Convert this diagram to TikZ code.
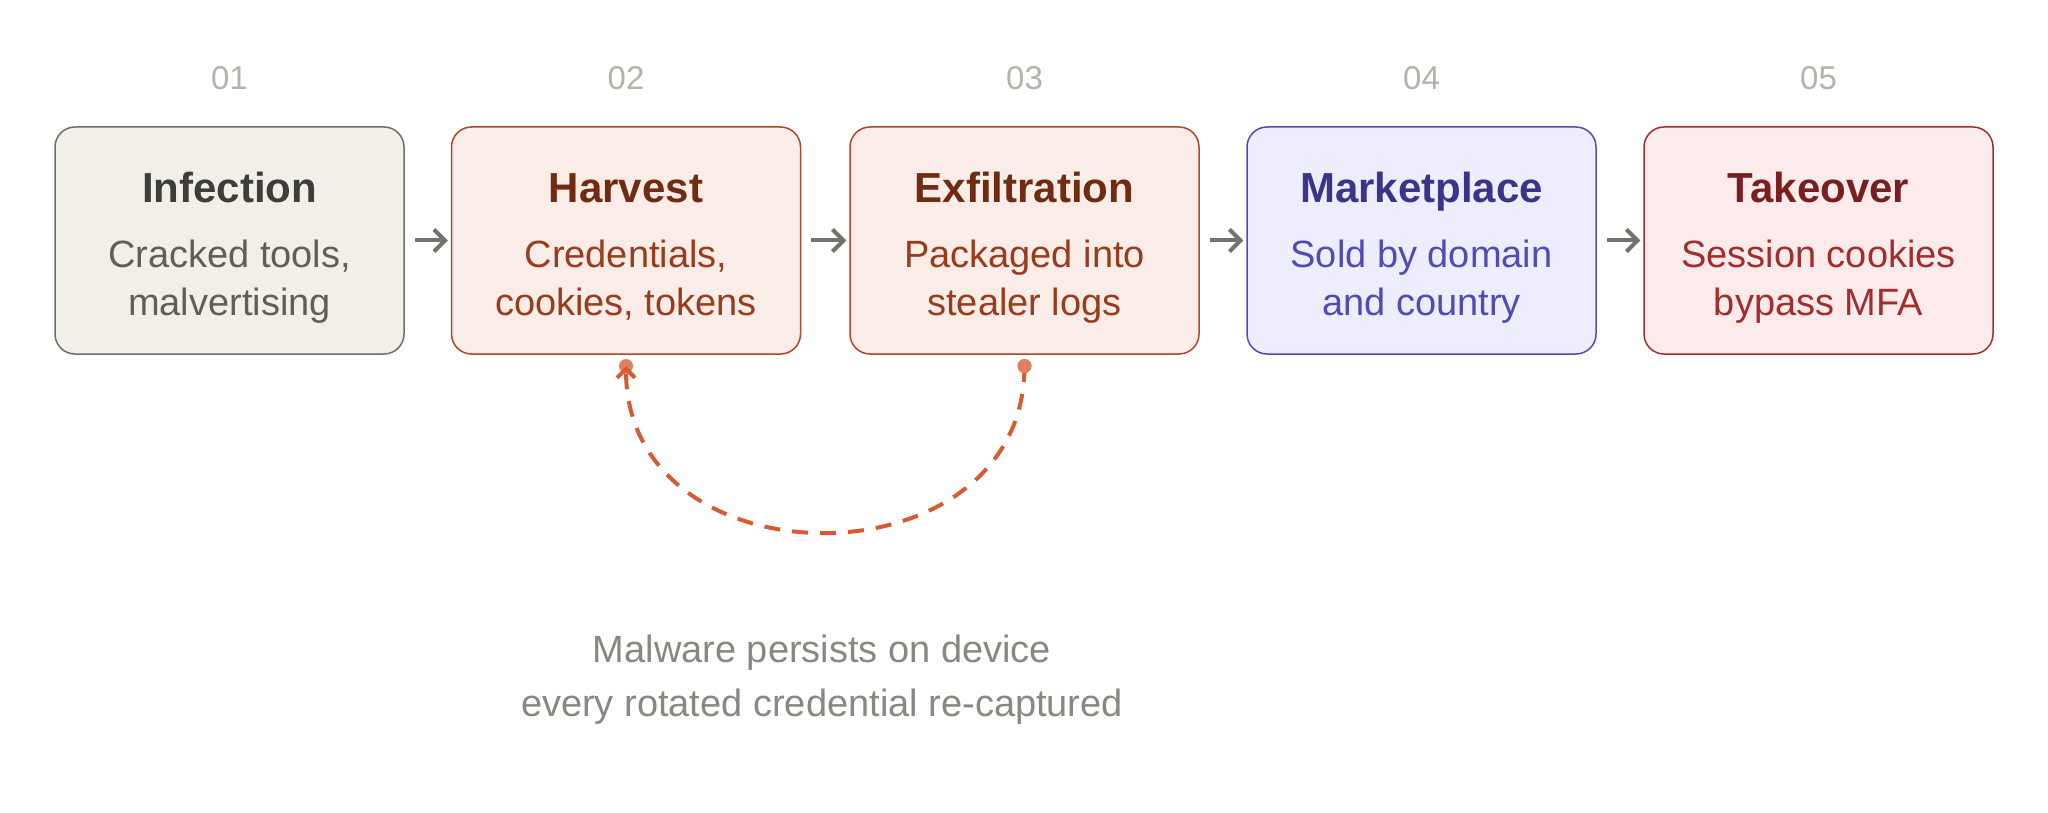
\documentclass[tikz,border=0pt]{standalone}
\usepackage{fontspec}
\setmainfont{Liberation Sans}
\usetikzlibrary{arrows.meta}
\definecolor{numgray}{HTML}{B4B2A9}
\definecolor{arrowgray}{HTML}{73726C}
\definecolor{notegray}{HTML}{888780}
\definecolor{infFill}{HTML}{F1EFE8}
\definecolor{infLine}{HTML}{6F6E68}
\definecolor{infHead}{HTML}{3D3D3A}
\definecolor{infText}{HTML}{5F5E5A}
\definecolor{harFill}{HTML}{FAECE7}
\definecolor{harLine}{HTML}{B0462A}
\definecolor{harHead}{HTML}{712B13}
\definecolor{harText}{HTML}{993C1D}
\definecolor{mktFill}{HTML}{EEEDFE}
\definecolor{mktLine}{HTML}{534AB7}
\definecolor{mktHead}{HTML}{3C3489}
\definecolor{mktText}{HTML}{534AB7}
\definecolor{tkoFill}{HTML}{FCEBEB}
\definecolor{tkoLine}{HTML}{A32D2D}
\definecolor{tkoHead}{HTML}{791F1F}
\definecolor{tkoText}{HTML}{A32D2D}
\definecolor{loopLine}{HTML}{D85A30}
\definecolor{loopDot}{HTML}{E2805E}
\begin{document}
\begin{tikzpicture}[x=1pt,y=-1pt,
  stage/.style={rounded corners=20pt, line width=1.5pt, minimum width=349pt, minimum height=227pt, inner sep=0pt},
  stepnum/.style={text=numgray, anchor=base, font=\fontsize{33}{33}\selectfont},
  stagehead/.style={anchor=base, font=\fontsize{42}{42}\selectfont\bfseries},
  stagetext/.style={anchor=base, font=\fontsize{38}{48}\selectfont, align=center},
  flow/.style={-{Straight Barb[length=11pt,width=22pt]}, line width=4pt, draw=arrowgray, shorten <=10pt, shorten >=3pt},
  loopdot/.style={circle, fill=loopDot, minimum size=14pt, inner sep=0pt},
  loopback/.style={-{Straight Barb[length=9pt,width=18pt]}, draw=loopLine, line width=4pt, dash pattern=on 16pt off 12pt}
]
\useasboundingbox (0,0) rectangle (2048,813);

\node[stepnum] (n1) at (229.5,90) {01};
\node[stepnum] (n2) at (626,90) {02};
\node[stepnum] (n3) at (1024.5,90) {03};
\node[stepnum] (n4) at (1421.5,90) {04};
\node[stepnum] (n5) at (1818.5,90) {05};

\node[stage, draw=infLine, fill=infFill] (b1) at (229.5,240.5) {};
\node[stage, draw=harLine, fill=harFill] (b2) at (626,240.5) {};
\node[stage, draw=harLine, fill=harFill] (b3) at (1024.5,240.5) {};
\node[stage, draw=mktLine, fill=mktFill] (b4) at (1421.5,240.5) {};
\node[stage, draw=tkoLine, fill=tkoFill] (b5) at (1818.5,240.5) {};

\node[stagehead, text=infHead] (h1) at (229.5,203) {Infection};
\node[stagetext, text=infText] (s1) at (229.5,315) {Cracked tools,\\malvertising};
\node[stagehead, text=harHead] (h2) at (626,203) {Harvest};
\node[stagetext, text=harText] (s2) at (626,315) {Credentials,\\cookies, tokens};
\node[stagehead, text=harHead] (h3) at (1024.5,203) {Exfiltration};
\node[stagetext, text=harText] (s3) at (1024.5,315) {Packaged into\\stealer logs};
\node[stagehead, text=mktHead] (h4) at (1421.5,203) {Marketplace};
\node[stagetext, text=mktText] (s4) at (1421.5,315) {Sold by domain\\and country};
\node[stagehead, text=tkoHead] (h5) at (1818.5,203) {Takeover};
\node[stagetext, text=tkoText] (s5) at (1818.5,315) {Session cookies\\bypass MFA};

\draw[flow] (b1.east) -- (b2.west);
\draw[flow] (b2.east) -- (b3.west);
\draw[flow] (b3.east) -- (b4.west);
\draw[flow] (b4.east) -- (b5.west);

\node[loopdot] (d2) at (626,366) {};
\node[loopdot] (d3) at (1024.5,366) {};
\draw[loopback] (d3.center) .. controls +(0,222) and +(0,222) .. (d2.center);
\node[loopdot] at (d3) {};

\node[stagetext, text=notegray, font=\fontsize{38}{54}\selectfont] (note) at (822,716) {Malware persists on device\\every rotated credential re-captured};
\end{tikzpicture}
\end{document}
